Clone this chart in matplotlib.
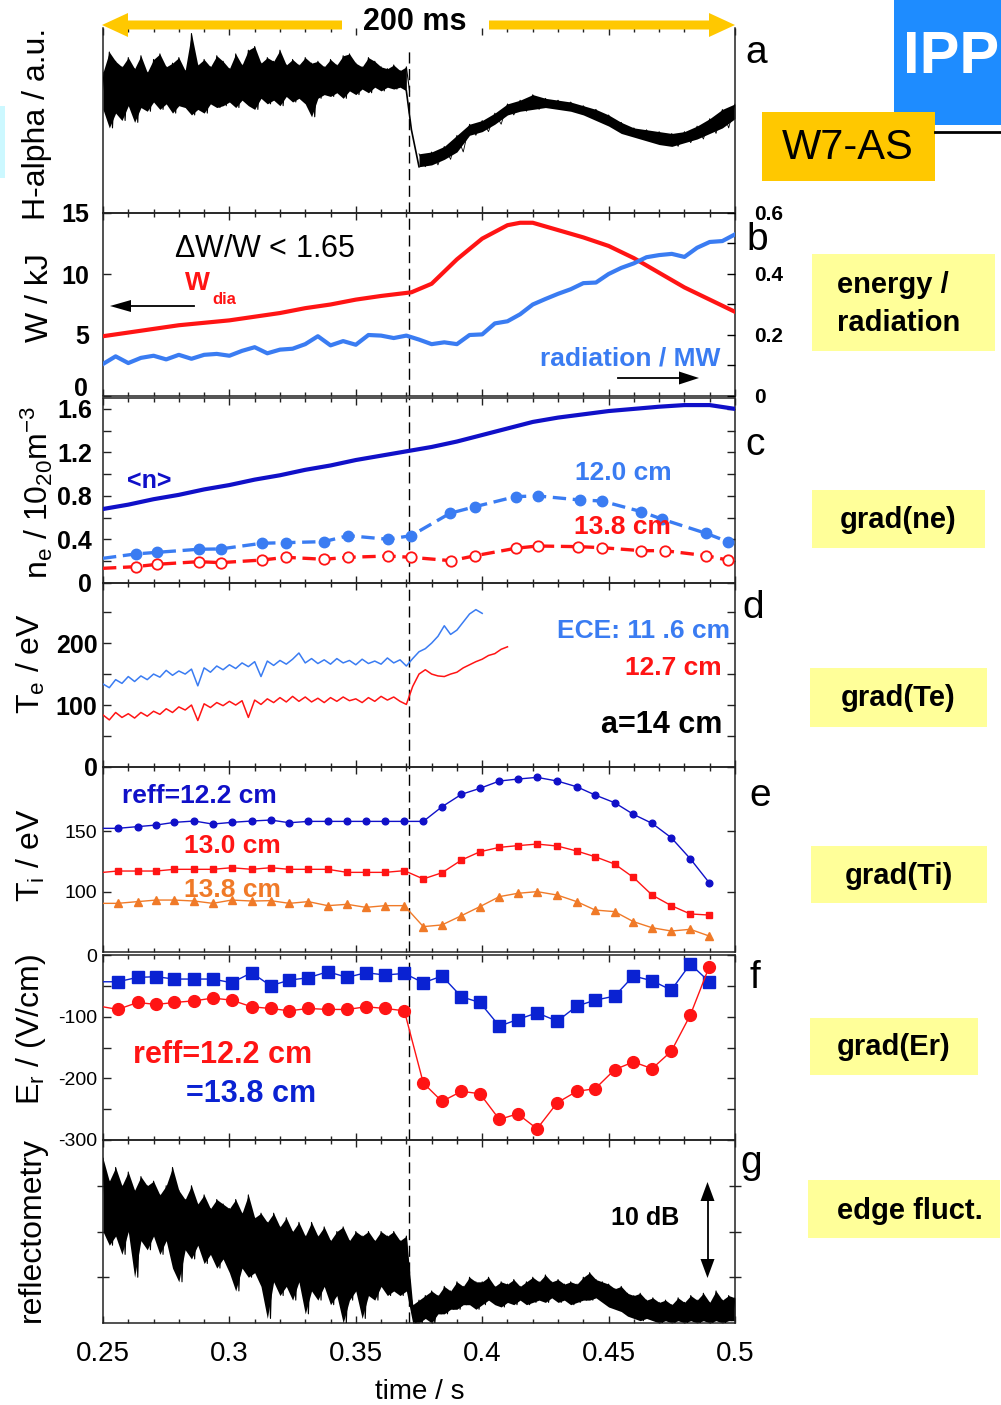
import numpy as np
import matplotlib
matplotlib.use("Agg")
import matplotlib.pyplot as plt
from matplotlib.patches import Rectangle, Polygon
from matplotlib.lines import Line2D
from matplotlib.ticker import MultipleLocator, FixedLocator, FuncFormatter

plt.rcParams['font.family'] = ['Liberation Sans', 'DejaVu Sans']
plt.rcParams['mathtext.fontset'] = 'custom'
plt.rcParams['mathtext.rm'] = 'Liberation Sans'
plt.rcParams['mathtext.it'] = 'Liberation Sans:italic'
plt.rcParams['mathtext.bf'] = 'Liberation Sans:bold'
plt.rcParams['axes.unicode_minus'] = False

# ======================= data =======================
T_TRANS = 0.371          # time of the transition (dashed line), s

# (a) H-alpha, envelope of the noisy trace: 2.5 ms bins before, 5 ms bins after
ha_pre_hi = [7.6, 8.7, 8.2, 7.9, 8.4, 7.8, 8.5, 7.6, 8.3, 8.6, 7.9, 8.1, 8.4, 7.7, 9.7, 8.0, 8.3,
             7.9, 8.5, 8.2, 7.8, 8.6, 8.0, 8.8, 9.0, 8.1, 8.4, 8.2, 8.8, 8.0, 8.3, 8.0, 8.4, 8.1,
             8.2, 7.9, 8.3, 8.0, 8.5, 8.6, 8.1, 7.9, 8.4, 8.2, 7.9, 7.8, 8.0, 7.7, 7.9]
ha_pre_lo = [5.6, 4.6, 5.4, 5.0, 5.8, 4.9, 5.7, 5.5, 6.0, 5.6, 5.9, 5.4, 5.8, 5.7, 5.3, 5.6, 5.4,
             5.9, 5.7, 5.8, 6.0, 5.7, 6.1, 5.8, 5.6, 6.2, 5.9, 6.1, 5.8, 6.3, 6.0, 6.2, 5.9, 5.2,
             6.2, 6.4, 6.3, 6.5, 6.2, 6.6, 6.4, 6.7, 6.5, 6.8, 6.6, 6.8, 6.7, 6.8, 6.6]
ha_post_hi = [3.2, 3.3, 3.6, 4.2, 4.8, 5.0, 5.4, 5.9, 6.1, 6.4, 6.2, 6.1, 6.0, 5.8, 5.6, 5.3,
              4.9, 4.6, 4.5, 4.4, 4.3, 4.4, 4.7, 5.1, 5.6, 5.9]
ha_post_lo = [2.5, 2.6, 2.9, 3.3, 4.2, 4.4, 4.8, 5.3, 5.5, 5.6, 5.7, 5.6, 5.5, 5.3, 5.0, 4.7,
              4.3, 4.1, 3.9, 3.7, 3.6, 3.8, 4.0, 4.3, 4.6, 5.1]

# (b) diamagnetic energy (kJ) and radiation (MW)
w_t = [0.25, 0.26, 0.27, 0.28, 0.29, 0.30, 0.31, 0.32, 0.33, 0.34, 0.35, 0.36, 0.372, 0.38,
       0.39, 0.40, 0.41, 0.415, 0.42, 0.43, 0.44, 0.45, 0.46, 0.47, 0.48, 0.49, 0.50]
w_dia = [4.9, 5.2, 5.5, 5.8, 6.0, 6.2, 6.5, 6.8, 7.2, 7.5, 7.9, 8.2, 8.5, 9.2,
         11.2, 12.9, 14.0, 14.2, 14.2, 13.6, 13.0, 12.3, 11.3, 10.1, 8.9, 7.9, 6.9]
rad_mw = [0.105, 0.130, 0.108, 0.125, 0.132, 0.120, 0.135, 0.122, 0.135, 0.138, 0.132, 0.148,
          0.160, 0.140, 0.152, 0.155, 0.170, 0.196, 0.166, 0.180, 0.168, 0.200, 0.198, 0.190,
          0.198, 0.185, 0.170, 0.176, 0.170, 0.200, 0.202, 0.238, 0.245, 0.268, 0.300, 0.318,
          0.335, 0.350, 0.370, 0.372, 0.400, 0.420, 0.435, 0.455, 0.462, 0.466, 0.456, 0.486,
          0.505, 0.508, 0.530]          # every 5 ms from 0.25 s

# (c) density, 1e20 m^-3
nbar_t = [0.25, 0.26, 0.27, 0.28, 0.29, 0.30, 0.31, 0.32, 0.33, 0.34, 0.35, 0.36, 0.37,
          0.38, 0.39, 0.40, 0.41, 0.42, 0.43, 0.44, 0.45, 0.46, 0.47, 0.48, 0.49, 0.50]
nbar = [0.68, 0.72, 0.77, 0.81, 0.86, 0.90, 0.95, 0.99, 1.04, 1.08, 1.13, 1.17, 1.21,
        1.25, 1.30, 1.36, 1.42, 1.48, 1.52, 1.55, 1.58, 1.60, 1.62, 1.635, 1.635, 1.60]
ne120_t = [0.25, 0.2629, 0.2715, 0.2878, 0.2965, 0.3128, 0.3224, 0.3374, 0.3470, 0.3627,
           0.3719, 0.3873, 0.3973, 0.4132, 0.4219, 0.4386, 0.4472, 0.4629, 0.4712, 0.4885, 0.4971]
ne120 = [0.227, 0.267, 0.282, 0.310, 0.313, 0.365, 0.371, 0.380, 0.435, 0.402, 0.435,
         0.641, 0.702, 0.794, 0.800, 0.763, 0.754, 0.656, 0.586, 0.457, 0.380]
ne138_t = [0.25, 0.2629, 0.2715, 0.2878, 0.2965, 0.3128, 0.3224, 0.3374, 0.3470, 0.3627,
           0.3719, 0.3877, 0.3973, 0.4132, 0.4219, 0.4380, 0.4472, 0.4629, 0.4722, 0.4885, 0.4971]
ne138 = [0.135, 0.150, 0.172, 0.196, 0.187, 0.211, 0.236, 0.218, 0.236, 0.248, 0.236,
         0.205, 0.251, 0.319, 0.340, 0.334, 0.325, 0.297, 0.297, 0.251, 0.211]

# (d) ECE electron temperature, eV, sampled every 2.5 ms from 0.25 s
te116 = [134, 128, 141, 135, 146, 138, 147, 141, 150, 145, 156, 148, 155, 150, 158, 131,
         160, 153, 163, 157, 165, 159, 168, 162, 170, 146, 171, 164, 172, 166, 174, 184,
         168, 175, 167, 173, 166, 175, 168, 172, 165, 174, 167, 171, 166, 176, 168, 173,
         163, 175, 186, 191, 200, 211, 228, 214, 221, 234, 247, 254, 248]
te127 = [84, 76, 88, 80, 86, 79, 88, 82, 90, 85, 94, 88, 97, 92, 100, 75,
         102, 96, 104, 99, 106, 100, 107, 80, 108, 101, 110, 104, 112, 105, 114, 106,
         113, 105, 111, 104, 112, 106, 113, 107, 110, 104, 112, 106, 114, 108, 113, 106,
         101, 130, 150, 157, 150, 147, 146, 150, 153, 160, 165, 170, 174, 180, 183, 190, 194]

# (e) ion temperature, eV and (f) radial electric field, V/cm (same time base)
cx_t = [0.25, 0.2558, 0.2637, 0.2710, 0.2782, 0.2861, 0.2934, 0.3009, 0.3088, 0.3163,
        0.3237, 0.3312, 0.3389, 0.3466, 0.3540, 0.3616, 0.3692, 0.3767, 0.3841, 0.3918,
        0.3991, 0.4068, 0.4140, 0.4217, 0.4297, 0.4374, 0.4447, 0.4524, 0.4598, 0.4672,
        0.4748, 0.4823, 0.4898]
ti122 = [152.2, 152.2, 153.6, 154.9, 157.1, 158.2, 155.7, 157.1, 158.2, 159.0, 156.8,
         157.9, 157.9, 157.9, 157.9, 157.9, 157.9, 157.9, 169.9, 180.1, 185.0, 191.0,
         192.6, 194.0, 191.0, 186.3, 179.5, 173.2, 163.7, 156.3, 144.5, 127.3, 107.6]
ti130 = [116.1, 117.2, 117.2, 117.2, 118.6, 118.6, 118.6, 119.9, 118.6, 119.9, 118.6,
         118.6, 118.6, 116.1, 116.1, 116.1, 117.5, 110.7, 115.8, 126.2, 133.0, 136.6,
         138.0, 139.3, 137.7, 133.6, 128.9, 122.9, 112.0, 97.5, 88.8, 82.0, 81.1]
ti138 = [90.7, 90.7, 92.1, 93.4, 93.4, 92.6, 90.7, 93.4, 92.6, 92.9, 90.7,
         92.1, 88.8, 89.9, 87.4, 88.8, 88.8, 71.6, 73.0, 80.6, 88.0, 96.2,
         98.9, 100.3, 97.5, 92.1, 85.2, 83.9, 75.7, 70.7, 68.0, 69.4, 63.9]
er122 = [-84.0, -88.3, -77.0, -80.2, -77.0, -74.3, -69.9, -73.2, -84.0, -86.7, -90.5,
         -86.7, -88.3, -88.3, -84.0, -86.7, -90.5, -207.6, -237.4, -221.1, -224.9, -266.7,
         -257.5, -281.8, -239.5, -221.1, -216.8, -185.9, -173.4, -184.3, -156.1, -97.6, -19.0]
er138 = [-43.4, -43.4, -36.3, -35.2, -39.0, -39.0, -39.0, -45.0, -28.7, -49.9, -40.7,
         -36.9, -27.1, -36.3, -28.7, -32.5, -29.8, -45.0, -34.1, -67.8, -77.0, -115.4,
         -104.6, -93.8, -107.3, -82.9, -73.2, -66.7, -34.1, -41.7, -56.9, -14.6, -43.4]

# (g) reflectometry fluctuation level (arb., 10 dB ~ 2 units), envelope per 2.5 ms
refl_hi = [3.6, 3.1, 3.4, 3.0, 3.3, 2.9, 3.2, 3.0, 3.1, 2.8, 3.0, 3.4, 2.9, 2.7, 3.0, 2.6,
           2.8, 2.5, 2.7, 2.6, 2.5, 2.7, 2.4, 2.8, 2.3, 2.4, 2.2, 2.4, 2.1, 2.3, 2.0, 2.2,
           1.9, 2.2, 1.9, 2.1, 1.8, 2.0, 2.1, 1.8, 2.0, 1.9, 2.0, 1.8, 2.0, 1.9, 2.0, 1.8,
           1.9, 0.4, 0.5, 0.6, 0.7, 0.6, 0.8, 0.7, 0.9, 0.8, 1.0, 0.9, 0.9, 1.0, 0.8, 0.9,
           0.85, 0.95, 0.8, 0.9, 1.0, 0.9, 1.05, 0.9, 0.95, 0.85, 0.9, 0.85, 1.0, 1.1, 0.95,
           0.9, 0.85, 0.75, 0.8, 0.65, 0.6, 0.65, 0.5, 0.55, 0.45, 0.5, 0.4, 0.55, 0.45, 0.6,
           0.5, 0.65, 0.45, 0.7, 0.5, 0.6, 0.55]
refl_lo = [2.0, 1.7, 1.9, 1.5, 2.0, 1.0, 1.8, 1.6, 1.9, 1.5, 1.8, 1.2, 0.9, 1.6, 1.4, 1.7,
           1.3, 1.5, 1.2, 1.4, 1.1, 0.7, 1.2, 1.0, 1.1, 0.8, 0.1, 0.9, 0.6, 0.8, 0.5, 0.9,
           0.2, 0.7, 0.5, 0.8, 0.4, 0.6, 0.0, 0.5, 0.7, 0.1, 0.6, 0.5, 0.8, 0.6, 0.7, 0.6,
           0.7, 0.0, 0.0, 0.1, 0.0, 0.2, 0.2, 0.3, 0.3, 0.4, 0.4, 0.3, 0.4, 0.5, 0.4, 0.35,
           0.45, 0.4, 0.5, 0.4, 0.45, 0.5, 0.45, 0.55, 0.45, 0.5, 0.4, 0.45, 0.5, 0.5, 0.55,
           0.45, 0.35, 0.3, 0.25, 0.15, 0.1, 0.05, 0.1, 0.05, 0.0, 0.05, 0.0, 0.05, 0.0, 0.05,
           0.0, 0.05, 0.0, 0.05, 0.0, 0.05, 0.05]

x_ticklabels = ['0.25', '0.3', '0.35', '0.4', '0.45', '0.5']

# ======================= colours =======================
C_RED = '#FF1414'
C_LBLUE = '#3A7CF2'
C_DBLUE = '#1010C8'
C_SQBLUE = '#0A22D2'
C_ORANGE = '#F07A28'
C_YELLOW = '#FFC800'
C_BOX = '#FFFF99'

# ======================= figure / layout =======================
W, H = 1001, 1405
fig = plt.figure(figsize=(W / 100, H / 100), dpi=100, facecolor='white')


def P(px, py):
    return (px / W, 1 - py / H)


X0, X1 = 103, 735


def panel(top, bottom):
    return fig.add_axes([X0 / W, 1 - bottom / H, (X1 - X0) / W, (bottom - top) / H])


def style(ax):
    ax.set_xlim(0.25, 0.5)
    ax.xaxis.set_major_locator(MultipleLocator(0.05))
    ax.xaxis.set_minor_locator(MultipleLocator(0.01))
    ax.tick_params(axis='x', which='both', top=True, bottom=True, direction='in',
                   labelbottom=False, width=1.0, color='#222222')
    ax.tick_params(axis='x', which='major', length=5.2)
    ax.tick_params(axis='x', which='minor', length=3.0)
    ax.tick_params(axis='y', which='both', left=True, right=True, direction='in',
                   length=6, width=1.0, color='#222222')
    for s in ax.spines.values():
        s.set_linewidth(1.1)
        s.set_color('#222222')
    ax.patch.set_alpha(0)


def dashed(ax, ymax=1.0):
    ax.axvline(T_TRANS, ymin=0, ymax=ymax, color='k', lw=1.0, ls=(0, (8, 4)), zorder=1)


def zigzag(t0, dt, hi, lo):
    n = len(hi)
    t = t0 + dt * np.arange(n)
    x = np.column_stack([t, t + dt / 2]).ravel()
    y = np.column_stack([hi, lo]).ravel()
    return x, y


def noisy(ax, t0, dt, hi, lo, lw=0.7):
    t = t0 + dt * np.arange(len(hi))
    ax.fill_between(t, lo, hi, color='k', lw=0, zorder=2)
    x, y = zigzag(t0, dt, hi, lo)
    ax.plot(x, y, color='k', lw=lw, zorder=3)


fmt_g = FuncFormatter(lambda v, p: f'{v:g}')
BOLD18 = dict(fontsize=18, fontweight='bold')

# ---------- (a) H-alpha ----------
ax_a = panel(28, 213)
style(ax_a)
ax_a.spines['top'].set_visible(False)
ax_a.set_ylim(0, 10)
ax_a.set_yticks([])
noisy(ax_a, 0.25, 0.0025, ha_pre_hi, ha_pre_lo, lw=0.8)
noisy(ax_a, 0.375, 0.005, ha_post_hi, ha_post_lo, lw=0.6)
ax_a.plot([0.25 + 0.0025 * (len(ha_pre_hi) - 1), T_TRANS + 0.001, 0.375],
          [ha_pre_lo[-1], 4.5, ha_post_lo[0]], color='k', lw=1.2, zorder=3)
dashed(ax_a, ymax=0.88)

# ---------- (b) energy / radiation ----------
ax_b = panel(213, 396)
style(ax_b)
ax_b.set_ylim(0, 15)
ax_b.set_yticks([0, 5, 10, 15])
ax_b.set_yticklabels(['', '5', '10', '15'], **BOLD18)
ax_b.tick_params(axis='y', right=False, pad=10)
ax_b.plot(w_t, w_dia, color=C_RED, lw=3.0, zorder=3)
dashed(ax_b)
ax_b2 = ax_b.twinx()
ax_b2.set_ylim(0, 0.6)
ax_b2.yaxis.set_major_locator(FixedLocator([0, 0.2, 0.4, 0.6]))
ax_b2.yaxis.set_minor_locator(FixedLocator([0.1, 0.3, 0.5]))
ax_b2.yaxis.set_major_formatter(fmt_g)
ax_b2.tick_params(axis='y', which='both', direction='in', length=6, width=1.0, pad=14,
                  labelsize=15)
for lab in ax_b2.get_yticklabels():
    lab.set_fontweight('bold')
for s in ax_b2.spines.values():
    s.set_visible(False)
ax_b2.plot(0.25 + 0.005 * np.arange(len(rad_mw)), rad_mw, color=C_LBLUE, lw=3.0, zorder=3)

# ---------- (c) density ----------
ax_c = panel(398, 583)
style(ax_c)
ax_c.set_ylim(0, 1.70)
ax_c.yaxis.set_major_locator(FixedLocator([0, 0.4, 0.8, 1.2, 1.6]))
ax_c.yaxis.set_minor_locator(FixedLocator([0.2, 0.6, 1.0, 1.4]))
ax_c.yaxis.set_major_formatter(fmt_g)
ax_c.tick_params(axis='y', which='both', length=6, pad=8)
for lab in ax_c.get_yticklabels():
    lab.set_fontsize(18)
    lab.set_fontweight('bold')
ax_c.plot(nbar_t, nbar, color=C_DBLUE, lw=3.0, zorder=3)
ax_c.plot(ne120_t, ne120, color=C_LBLUE, lw=2.4, ls=(0, (4, 2)), marker='o', ms=7.5,
          markevery=slice(1, None), zorder=3)
ax_c.plot(ne138_t, ne138, color=C_RED, lw=2.4, ls=(0, (4, 2)), marker='o', ms=7.5,
          mfc='white', mec=C_RED, mew=1.3, markevery=slice(1, None), zorder=3)
dashed(ax_c)

# ---------- (d) electron temperature ----------
ax_d = panel(583, 767)
style(ax_d)
ax_d.set_ylim(0, 297)
ax_d.yaxis.set_major_locator(FixedLocator([0, 100, 200]))
ax_d.yaxis.set_minor_locator(FixedLocator([50, 150, 250]))
ax_d.tick_params(axis='y', which='both', length=6, pad=4)
ax_d.set_yticklabels(['0', '100', '200'], **BOLD18)
ax_d.plot(0.25 + 0.0025 * np.arange(len(te116)), te116, color=C_LBLUE, lw=1.1, zorder=3)
ax_d.plot(0.25 + 0.0025 * np.arange(len(te127)), te127, color=C_RED, lw=1.1, zorder=3)
dashed(ax_d)

# ---------- (e) ion temperature ----------
ax_e = panel(767, 952)
style(ax_e)
ax_e.set_ylim(50.8, 202.5)
ax_e.yaxis.set_major_locator(FixedLocator([100, 150]))
ax_e.tick_params(axis='y', which='both', length=6, pad=4, labelsize=14)
ax_e.plot(cx_t, ti122, color=C_DBLUE, lw=1.0, marker='o', ms=4.8,
          markevery=slice(1, None), zorder=3)
ax_e.plot(cx_t, ti130, color=C_RED, lw=1.0, marker='s', ms=5.0,
          markevery=slice(1, None), zorder=3)
ax_e.plot(cx_t, ti138, color=C_ORANGE, lw=1.0, marker='^', ms=5.2,
          markevery=slice(1, None), zorder=3)
dashed(ax_e)

# ---------- (f) radial electric field ----------
ax_f = panel(955, 1140)
style(ax_f)
ax_f.set_ylim(-300, 0)
ax_f.yaxis.set_major_locator(FixedLocator([-300, -200, -100, 0]))
ax_f.yaxis.set_minor_locator(FixedLocator([-250, -150, -50]))
ax_f.tick_params(axis='y', which='both', length=6, pad=4, labelsize=14)
ax_f.plot(cx_t, er138, color=C_SQBLUE, lw=1.0, marker='s', ms=8,
          markevery=slice(1, None), zorder=3)
ax_f.plot(cx_t, er122, color=C_RED, lw=1.0, marker='o', ms=8.5,
          markevery=slice(1, None), zorder=3)
dashed(ax_f)

# ---------- (g) reflectometry ----------
ax_g = panel(1140, 1323)
style(ax_g)
ax_g.set_ylim(0, 4)
ax_g.yaxis.set_major_locator(FixedLocator([1, 2, 3]))
ax_g.tick_params(axis='y', which='both', direction='inout', length=9, labelleft=False)
noisy(ax_g, 0.25, 0.0025, refl_hi, refl_lo, lw=0.8)
dashed(ax_g)
ax_g.xaxis.set_major_locator(FixedLocator([0.25, 0.30, 0.35, 0.40, 0.45, 0.50]))
ax_g.set_xticklabels(x_ticklabels)
ax_g.tick_params(axis='x', labelbottom=True, labelsize=20, pad=13)

# ======================= decorations =======================
def poly(pts, color, z=5):
    fig.add_artist(Polygon([P(*p) for p in pts], closed=True, transform=fig.transFigure,
                           facecolor=color, edgecolor='none', zorder=z))


def fline(p1, p2, lw=1.2, color='k'):
    (a, b), (c, d) = P(*p1), P(*p2)
    fig.add_artist(Line2D([a, c], [b, d], transform=fig.transFigure, color=color, lw=lw,
                          zorder=5))


def box(x0, y0, x1, y1, color):
    fig.add_artist(Rectangle(P(x0, y1), (x1 - x0) / W, (y1 - y0) / H,
                             transform=fig.transFigure, facecolor=color, edgecolor='none',
                             zorder=4))


def ftext(px, py, s, **kw):
    kw.setdefault('ha', 'center')
    kw.setdefault('va', 'center')
    kw.setdefault('zorder', 6)
    fig.text(*P(px, py), s, **kw)


# header 200 ms arrow (covers the top frame of panel a)
poly([(102, 25), (128, 13), (128, 20.5), (342, 20.5), (342, 29.5), (128, 29.5), (128, 37)], C_YELLOW)
poly([(735, 25), (709, 13), (709, 20.5), (489, 20.5), (489, 29.5), (709, 29.5), (709, 37)], C_YELLOW)
ftext(415, 22, '200 ms', fontsize=22, fontweight='bold',
      bbox=dict(facecolor='white', edgecolor='none', pad=2))

# IPP logo and W7-AS tag
ax_logo = fig.add_axes([894 / W, 1 - 125 / H, 107 / W, 125 / H])
ax_logo.set_facecolor('#1E8CFF')
ax_logo.set_xticks([])
ax_logo.set_yticks([])
for s in ax_logo.spines.values():
    s.set_visible(False)
ax_logo.text(9 / 107, 52 / 125, 'IPP', transform=ax_logo.transAxes, color='white',
             fontsize=43, fontweight='bold', ha='left', va='baseline')
fline((935, 132), (1001, 132), lw=2.0)
box(762, 112, 935, 181, C_YELLOW)
ftext(848, 148, 'W7-AS', fontsize=30)
box(0, 106, 5, 178, '#CCF8FF')

# right-hand yellow labels
LBL = dict(fontsize=21, fontweight='bold')
box(812, 254, 995, 351, C_BOX)
ftext(893, 285, 'energy /', **LBL)
ftext(899, 323, 'radiation', **LBL)
box(812, 490, 985, 548, C_BOX)
ftext(898, 520, 'grad(ne)', **LBL)
box(810, 668, 987, 727, C_BOX)
ftext(898, 698, 'grad(Te)', **LBL)
box(811, 846, 987, 903, C_BOX)
ftext(899, 876, 'grad(Ti)', **LBL)
box(810, 1018, 978, 1075, C_BOX)
ftext(894, 1047, 'grad(Er)', **LBL)
box(808, 1180, 1000, 1238, C_BOX)
ftext(910, 1211, 'edge fluct.', **LBL)

# panel letters
for lt, (px, py) in zip('abcdefg', [(756, 53), (757, 240), (755, 445), (753, 608),
                                     (760, 796), (755, 978), (751, 1163)]):
    ftext(px, py, lt, fontsize=28)

# b: lower left tick label sits just above the top of panel c
ftext(88, 389, '0', fontsize=18, fontweight='bold', ha='right')

# y-axis titles
YL = dict(fontsize=23, rotation=90)
ftext(37, 124, 'H-alpha / a.u.', **YL)
ftext(40, 298, 'W / kJ', **YL)
ftext(37, 492, r'n$_{\mathrm{e}}$ / 10$_{\mathrm{20}}$m$^{\mathrm{-3}}$', **YL)
ftext(31, 664, r'T$_{\mathrm{e}}$ / eV', **YL)
ftext(31, 855, r'T$_{\mathrm{i}}$ / eV', **YL)
ftext(31, 1030, r'E$_{\mathrm{r}}$ / (V/cm)', **YL)
ftext(32, 1230, 'reflectometry', **YL)
ftext(420, 1392, 'time / s', fontsize=20)

# (b) annotations
ftext(265, 249, r'$\Delta$W/W < 1.65', fontsize=22)
ftext(197, 283, 'W', color=C_RED, fontsize=19, fontweight='bold')
ftext(224, 299, 'dia', color=C_RED, fontsize=12, fontweight='bold')
fline((194, 306), (128, 306), lw=1.3)
poly([(110, 306), (131, 300), (131, 312)], 'k')
ftext(630, 358, 'radiation / MW', color=C_LBLUE, fontsize=19, fontweight='bold')
fline((618, 378), (682, 378), lw=1.3)
poly([(699, 378), (679, 371.5), (679, 384.5)], 'k')

# (c) annotations
ftext(149, 481, '<n>', color=C_DBLUE, fontsize=18, fontweight='bold')
ftext(623, 473, '12.0 cm', color=C_LBLUE, fontsize=19, fontweight='bold')
ftext(622, 527, '13.8 cm', color=C_RED, fontsize=19, fontweight='bold')

# (d) annotations
ftext(730, 631, 'ECE: 11 .6 cm', color=C_LBLUE, fontsize=19, fontweight='bold', ha='right')
ftext(722, 668, '12.7 cm', color=C_RED, fontsize=19, fontweight='bold', ha='right')
ftext(722, 725, 'a=14 cm', color='k', fontsize=22, fontweight='bold', ha='right')

# (e) annotations
ftext(199, 796, 'reff=12.2 cm', color=C_DBLUE, fontsize=19, fontweight='bold')
ftext(232, 846, '13.0 cm', color=C_RED, fontsize=19, fontweight='bold')
ftext(232, 890, '13.8 cm', color=C_ORANGE, fontsize=19, fontweight='bold')

# (f) annotations
ftext(223, 1055, 'reff=12.2 cm', color=C_RED, fontsize=22, fontweight='bold')
ftext(251, 1094, '=13.8 cm', color=C_SQBLUE, fontsize=22, fontweight='bold')

# (g) annotations
ftext(645, 1218, '10 dB', fontsize=18, fontweight='bold')
fline((707.5, 1198), (707.5, 1261), lw=1.3)
poly([(707.5, 1182), (700.5, 1201), (714.5, 1201)], 'k')
poly([(707.5, 1278), (700.5, 1259), (714.5, 1259)], 'k')

fig.savefig('out.png', dpi=100, facecolor='white')
